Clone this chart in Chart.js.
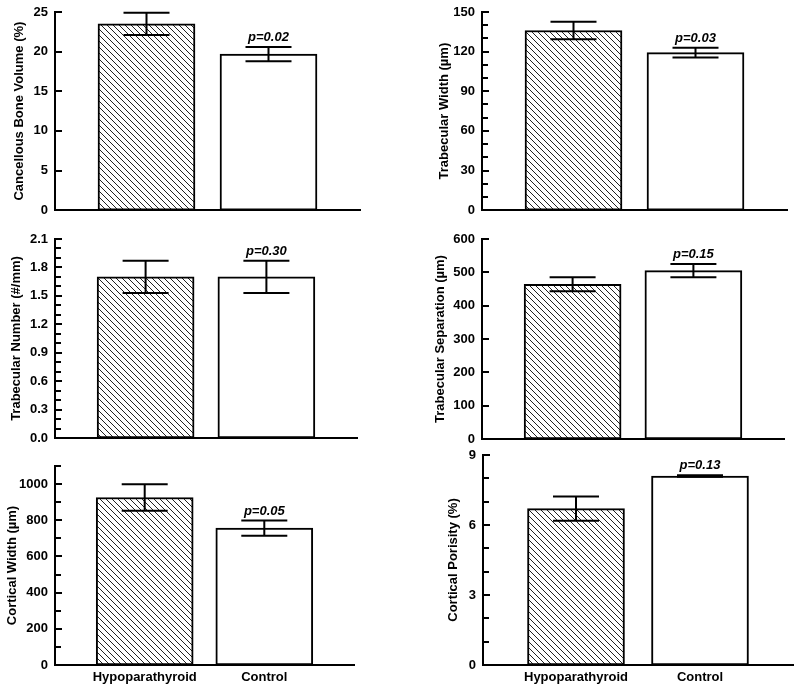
<!DOCTYPE html>
<html lang="en">
<head>
<meta charset="UTF-8">
<title>Hypoparathyroid vs Control</title>
<script src="https://cdn.jsdelivr.net/npm/chart.js"></script>
<style>
  body { margin: 0; background: #fff; }
  #wrap { position: relative; width: 800px; height: 695px; overflow: hidden; }
  #wrap canvas { position: absolute; }
</style>
</head>
<body>
<div id="wrap">
  <canvas id="c1" width="400" height="235" style="left:0;top:-10px"></canvas>
  <canvas id="c2" width="400" height="235" style="left:400px;top:-10px"></canvas>
  <canvas id="c3" width="400" height="245" style="left:0;top:210px"></canvas>
  <canvas id="c4" width="400" height="245" style="left:400px;top:210px"></canvas>
  <canvas id="c5" width="400" height="260" style="left:0;top:435px"></canvas>
  <canvas id="c6" width="400" height="260" style="left:400px;top:435px"></canvas>
</div>
<script>
// data (mean and error)
const groups = ['Hypoparathyroid', 'Control'];

const boneVolume = [23.5, 19.7];
const boneVolumeErr = [1.4, 0.9];
const trabWidth = [136, 119.3];
const trabWidthErr = [6.6, 3.7];
const trabNumber = [1.70, 1.70];
const trabNumberErr = [0.17, 0.17];
const trabSep = [464, 505];
const trabSepErr = [21, 20];
const cortWidth = [926, 757];
const cortWidthErr = [73, 42];
const cortPorosity = [6.7, 8.1];
const cortPorosityErr = [0.52, 0.03];

const pValues = ['p=0.02', 'p=0.03', 'p=0.30', 'p=0.15', 'p=0.05', 'p=0.13'];
const yTitles = [
  'Cancellous Bone Volume (%)', 'Trabecular Width (µm)',
  'Trabecular Number (#/mm)', 'Trabecular Separation (µm)',
  'Cortical Width (µm)', 'Cortical Porisity (%)'
];
// y axis: max, minor tick step, labelled tick step
const yMax = [25, 150, 2.1, 600, 1100, 9];
const yMinor = [5, 10, 0.1, 100, 100, 1];
const yLabelStep = [5, 30, 0.3, 100, 200, 3];
const yLabelMax = [25, 150, 2.1, 600, 1000, 9];

const FONT = 'Arial, "Liberation Sans", sans-serif';

// hatch fill for the hypoparathyroid bars
function makeHatch() {
    const s = 6;
    const c = document.createElement('canvas');
    c.width = s; c.height = s;
    const g = c.getContext('2d');
    g.fillStyle = '#fff';
    g.fillRect(0, 0, s, s);
    g.strokeStyle = '#222';
    g.lineWidth = 1;
    g.beginPath();
    g.moveTo(-s, 0); g.lineTo(s, 2 * s);
    g.moveTo(0, 0); g.lineTo(s, s);
    g.moveTo(0, -s); g.lineTo(2 * s, s);
    g.stroke();
    return g.createPattern(c, 'repeat');
}
const hatch = makeHatch();

// ticks pointing into the plot
const innerTicks = {
    id: 'innerTicks',
    afterDraw(chart) {
        const y = chart.scales.y;
        const ctx = chart.ctx;
        ctx.save();
        ctx.strokeStyle = '#000';
        ctx.lineWidth = 2;
        y.ticks.forEach(t => {
            if (t.value === 0) return;
            const py = Math.round(y.getPixelForValue(t.value));
            const len = t.label ? 7 : 6;
            ctx.beginPath();
            ctx.moveTo(y.right, py);
            ctx.lineTo(y.right + len, py);
            ctx.stroke();
        });
        ctx.restore();
    }
};

// error bars and p value
const errBars = {
    id: 'errBars',
    afterDatasetsDraw(chart, args, opts) {
        const x = chart.scales.x, y = chart.scales.y;
        const ctx = chart.ctx;
        const vals = chart.data.datasets[0].data;
        ctx.save();
        ctx.strokeStyle = '#000';
        ctx.lineWidth = 2;
        let topY = 0;
        vals.forEach((d, i) => {
            const px = x.getPixelForValue(d.x);
            const yt = y.getPixelForValue(d.y + opts.err[i]);
            const yb = y.getPixelForValue(d.y - opts.err[i]);
            ctx.beginPath();
            ctx.moveTo(px, yb); ctx.lineTo(px, yt);
            ctx.moveTo(px - 23, yt); ctx.lineTo(px + 23, yt);
            ctx.moveTo(px - 23, yb); ctx.lineTo(px + 23, yb);
            ctx.stroke();
            if (i === 1) topY = yt;
        });
        ctx.fillStyle = '#000';
        ctx.font = 'italic bold 13px ' + FONT;
        ctx.textAlign = 'center';
        ctx.textBaseline = 'bottom';
        ctx.fillText(opts.p, x.getPixelForValue(vals[1].x), topY - 3);
        ctx.restore();
    }
};

// page layout of each panel: canvas box and plot area
const panels = [
    { id: 'c1', box: [0, -10, 400, 235], area: [55, 12, 360, 214], titlePad: 12, vals: boneVolume, err: boneVolumeErr, xLabels: false },
    { id: 'c2', box: [400, -10, 400, 235], area: [482, 12, 787, 214], titlePad: 37, vals: trabWidth, err: trabWidthErr, xLabels: false },
    { id: 'c3', box: [0, 210, 400, 245], area: [55, 239, 357, 438], titlePad: 9, vals: trabNumber, err: trabNumberErr, xLabels: false },
    { id: 'c4', box: [400, 210, 400, 245], area: [482, 239, 784, 439], titlePad: 33, vals: trabSep, err: trabSepErr, xLabels: false },
    { id: 'c5', box: [0, 435, 400, 260], area: [55, 466, 354, 665], titlePad: 5, vals: cortWidth, err: cortWidthErr, xLabels: true },
    { id: 'c6', box: [400, 435, 400, 260], area: [483, 455, 793, 665], titlePad: 46, vals: cortPorosity, err: cortPorosityErr, xLabels: true }
];

panels.forEach((p, k) => {
    const [bl, bt, bw, bh] = p.box;
    const [al, at, ar, ab] = p.area;
    const yTicks = [];
    const n = Math.round(yMax[k] / yMinor[k]);
    for (let i = 0; i <= n; i++) yTicks.push(+(i * yMinor[k]).toFixed(3));
    const dec = k === 2 ? 1 : 0;

    new Chart(document.getElementById(p.id), {
        type: 'bar',
        data: {
            datasets: [{
                data: groups.map((g, i) => ({ x: i + 1, y: p.vals[i] })),
                backgroundColor: [hatch, '#fff'],
                borderColor: '#000',
                borderWidth: 2,
                borderSkipped: false,
                barThickness: 97
            }]
        },
        options: {
            responsive: false,
            animation: false,
            layout: { padding: { left: 0, top: at - bt, right: bl + bw - ar, bottom: 0 } },
            plugins: {
                legend: { display: false },
                tooltip: { enabled: false },
                errBars: { err: p.err, p: pValues[k] }
            },
            scales: {
                x: {
                    type: 'linear',
                    offset: false,
                    bounds: 'data',
                    min: 0.25,
                    max: 2.75,
                    afterBuildTicks: s => { s.ticks = [{ value: 1 }, { value: 2 }]; },
                    afterFit: s => { s.height = bt + bh - ab; },
                    grid: { display: false, drawTicks: false },
                    border: { display: true, color: '#000', width: 2 },
                    ticks: {
                        display: p.xLabels,
                        padding: 5,
                        color: '#000',
                        font: { family: FONT, size: 13, weight: 'bold' },
                        callback: v => groups[v - 1]
                    }
                },
                y: {
                    min: 0,
                    max: yMax[k],
                    afterBuildTicks: s => { s.ticks = yTicks.map(v => ({ value: v })); },
                    afterFit: s => { s.width = al - bl; },
                    grid: { display: false, drawTicks: false },
                    border: { display: true, color: '#000', width: 2 },
                    ticks: {
                        autoSkip: false,
                        padding: 7,
                        color: '#000',
                        font: { family: FONT, size: 13, weight: 'bold' },
                        callback: v => {
                            const r = v / yLabelStep[k];
                            if (Math.abs(r - Math.round(r)) > 1e-6 || v > yLabelMax[k] + 1e-9) return '';
                            return v.toFixed(dec);
                        }
                    },
                    title: {
                        display: true,
                        text: yTitles[k],
                        color: '#000',
                        padding: { top: p.titlePad, bottom: 0 },
                        font: { family: FONT, size: 13, weight: 'bold' }
                    }
                }
            }
        },
        plugins: [errBars, innerTicks]
    });
});
</script>
</body>
</html>
